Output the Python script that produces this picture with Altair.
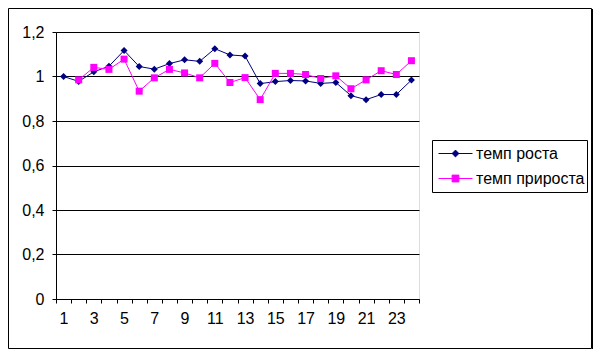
import altair as alt
import pandas as pd

periods = list(range(1, 25))
rost = [1.0, 0.978, 1.021, 1.046, 1.117, 1.045, 1.033, 1.058, 1.075, 1.068, 1.125, 1.097,
        1.092, 0.968, 0.977, 0.982, 0.98, 0.969, 0.973, 0.914, 0.896, 0.919, 0.919, 0.984]
prirost = [None, 0.985, 1.041, 1.032, 1.078, 0.934, 0.994, 1.032, 1.016, 0.994, 1.059, 0.973,
           0.995, 0.896, 1.014, 1.014, 1.009, 0.991, 1.003, 0.945, 0.985, 1.026, 1.009, 1.071]
names = ["темп роста", "темп прироста"]
colors = ["#000080", "#FF00FF"]

FONT = "Liberation Sans"
FS = 16

df1 = pd.DataFrame({"x": periods, "v": rost, "s": names[0]})
df2 = pd.DataFrame({"x": periods, "v": prirost, "s": names[1]})

xenc = alt.X("x:O", scale=alt.Scale(type="band", domain=periods, paddingInner=0, paddingOuter=0),
             axis=alt.Axis(title=None, labelAngle=0, tickBand="extent", tickSize=4, tickColor="black",
                           domainColor="black", labelColor="black", labelFont=FONT, labelFontSize=FS,
                           labelPadding=7, labelOverlap=False, grid=False,
                           labelExpr="datum.value % 2 == 1 ? datum.label : ''"))
yenc = alt.Y("v:Q", scale=alt.Scale(domain=[0, 1.2], nice=False),
             axis=alt.Axis(title=None, values=[0, 0.2, 0.4, 0.6, 0.8, 1.0, 1.2], tickSize=4,
                           tickColor="black", domainColor="black", labelColor="black",
                           labelFont=FONT, labelFontSize=FS, labelPadding=8,
                           gridColor="black", gridOpacity=1, gridWidth=1,
                           labelExpr="replace(format(datum.value, '.1~f'), '.', ',')"))

diamond_leg = "M-1,0L1,0M-0.2,0L0,-0.2L0.2,0L0,0.2Z"
square_leg = "M-1,0L1,0M-0.2,-0.2L0.2,-0.2L0.2,0.2L-0.2,0.2Z"


def series(df, col, shape, size, legpath, legy):
    base = alt.Chart(df).transform_filter("isValid(datum.v)")
    line = base.mark_line(color=col, strokeWidth=1).encode(x=xenc, y=yenc)
    pts = base.mark_point(filled=True, shape=shape, size=size, opacity=1).encode(
        x=xenc, y=yenc,
        color=alt.Color("s:N", scale=alt.Scale(range=[col]),
                        legend=alt.Legend(title=None, orient="none", legendX=382, legendY=legy,
                                          symbolType=legpath, symbolSize=1156,
                                          symbolStrokeColor=col, symbolFillColor=col,
                                          symbolStrokeWidth=1, labelFont=FONT, labelFontSize=FS,
                                          labelColor="black", labelOffset=3, padding=0)))
    return alt.layer(line, pts)


one = pd.DataFrame({"k": [0]})
border = alt.Chart(one).mark_rect(
    fill="transparent", stroke="black", strokeWidth=1).encode(
    x=alt.value(-47.5), x2=alt.value(535.5), y=alt.value(-23.5), y2=alt.value(316.5))
shadow_r = alt.Chart(one).mark_rule(color="black", strokeWidth=1).encode(
    x=alt.value(536.5), y=alt.value(-23), y2=alt.value(317.5))
shadow_b = alt.Chart(one).mark_rule(color="black", strokeWidth=1).encode(
    x=alt.value(-47), x2=alt.value(537), y=alt.value(317.5))
legbox = alt.Chart(one).mark_rect(
    fill="white", stroke="black", strokeWidth=1).encode(
    x=alt.value(376.5), x2=alt.value(531.5), y=alt.value(108.5), y2=alt.value(160.5))

chart = alt.layer(
    border,
    shadow_r,
    shadow_b,
    legbox,
    series(df1, colors[0], "diamond", 49, diamond_leg, 104),
    series(df2, colors[1], "square", 49, square_leg, 129),
).resolve_scale(color="independent").properties(
    width=363, height=267,
    padding={"left": 48, "top": 24, "right": 174, "bottom": 50},
    autosize=alt.AutoSizeParams(type="none"),
).configure_view(fill="#C0C0C0", stroke="#808080", strokeWidth=1).configure(background="white")

chart.save("out.html", embed_options={"renderer": "svg", "actions": False})
